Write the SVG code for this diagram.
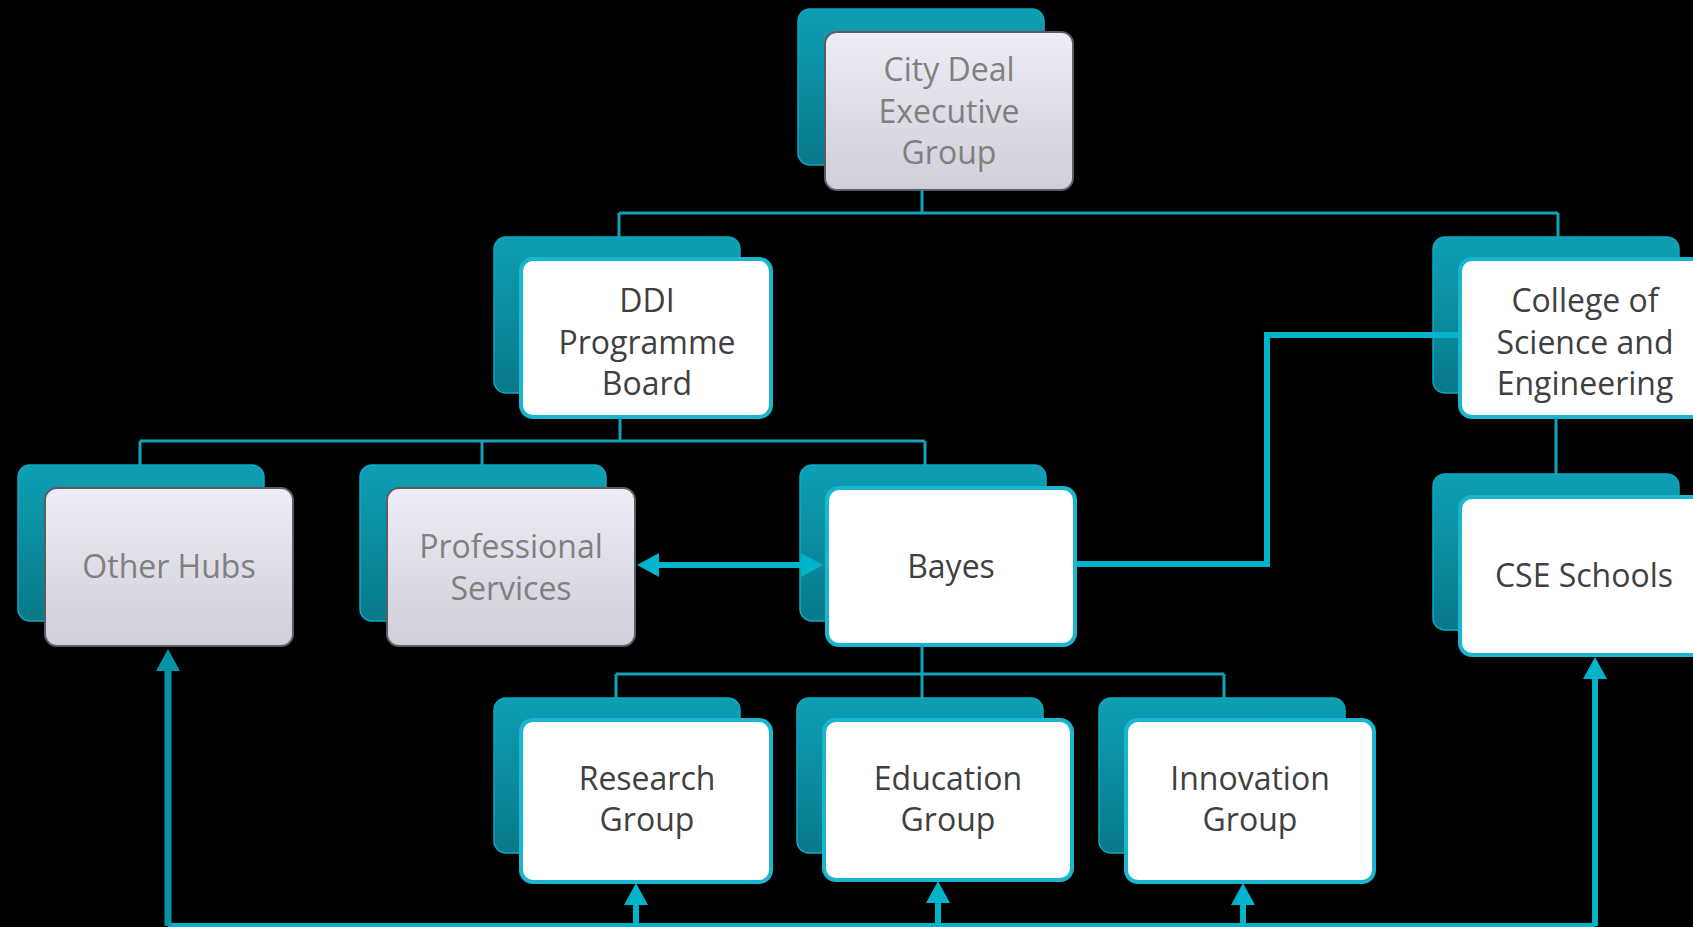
<svg xmlns="http://www.w3.org/2000/svg" width="1693" height="927" viewBox="0 0 1693 927">
<defs>
<linearGradient id="gBack" x1="0" y1="0" x2="0" y2="1">
<stop offset="0" stop-color="#0e9fb4"/>
<stop offset="1" stop-color="#07798a"/>
</linearGradient>
<linearGradient id="gGray" x1="0" y1="0" x2="0" y2="1">
<stop offset="0" stop-color="#eeedf6"/>
<stop offset="1" stop-color="#d0cfd9"/>
</linearGradient>
<marker id="arr" viewBox="0 0 22 24" refX="2" refY="12" markerWidth="22" markerHeight="24" markerUnits="userSpaceOnUse" orient="auto-start-reverse">
<path d="M0,0 L22,12 L0,24 z" fill="#00b4cc"/>
</marker>
<marker id="arrD" viewBox="0 0 22 24" refX="2" refY="12" markerWidth="22" markerHeight="24" markerUnits="userSpaceOnUse" orient="auto-start-reverse">
<path d="M0,0 L22,12 L0,24 z" fill="#0792a5"/>
</marker>
</defs>
<style>
.back{fill:url(#gBack);stroke:#10a9bf;stroke-width:1.5}
.front{fill:#ffffff;stroke:#1ab6cf;stroke-width:4}
.gray{fill:url(#gGray);stroke:#5c5c66;stroke-width:2}
text{font-family:"Open Sans","Liberation Sans",sans-serif;font-size:32px;text-anchor:middle}
.tw{fill:#404040}
.tg{fill:#808080}
.tree{fill:none;stroke:#12a2b9;stroke-width:3}
.thick{fill:none;stroke:#00b4cc;stroke-width:6}
</style>
<rect width="1693" height="927" fill="#000000"/>

<g id="city-deal">
<rect class="back" x="798" y="9" width="246" height="156" rx="12"/>
<rect class="gray" x="825" y="32" width="248" height="158" rx="12"/>
<text class="tg" x="949" y="81">City Deal</text>
<text class="tg" x="949" y="122.5">Executive</text>
<text class="tg" x="949" y="164">Group</text>
</g>

<g id="ddi">
<rect class="back" x="494" y="237" width="246" height="156" rx="12"/>
<rect class="front" x="521" y="259" width="250" height="158" rx="12"/>
<text class="tw" x="647" y="312">DDI</text>
<text class="tw" x="647" y="353.5">Programme</text>
<text class="tw" x="647" y="395">Board</text>
</g>

<g id="college">
<rect class="back" x="1433" y="237" width="246" height="156" rx="12"/>
<rect class="front" x="1460" y="259" width="250" height="158" rx="12"/>
<text class="tw" x="1585" y="312">College of</text>
<text class="tw" x="1585" y="353.5">Science and</text>
<text class="tw" x="1585" y="395">Engineering</text>
</g>

<g id="other-hubs">
<rect class="back" x="18" y="465" width="246" height="156" rx="12"/>
<rect class="gray" x="45" y="488" width="248" height="158" rx="12"/>
<text class="tg" x="169" y="578">Other Hubs</text>
</g>

<g id="professional-services">
<rect class="back" x="360" y="465" width="246" height="156" rx="12"/>
<rect class="gray" x="387" y="488" width="248" height="158" rx="12"/>
<text class="tg" x="511" y="558">Professional</text>
<text class="tg" x="511" y="599.5">Services</text>
</g>

<g id="bayes">
<rect class="back" x="800" y="465" width="246" height="156" rx="12"/>
<rect class="front" x="827" y="488" width="248" height="157" rx="12"/>
<text class="tw" x="951" y="578">Bayes</text>
</g>

<g id="cse-schools">
<rect class="back" x="1433" y="474" width="246" height="156" rx="12"/>
<rect class="front" x="1460" y="497" width="250" height="158" rx="12"/>
<text class="tw" x="1584" y="587">CSE Schools</text>
</g>

<g id="research">
<rect class="back" x="494" y="698" width="246" height="155" rx="12"/>
<rect class="front" x="521" y="720" width="250" height="162" rx="12"/>
<text class="tw" x="647" y="790">Research</text>
<text class="tw" x="647" y="831">Group</text>
</g>

<g id="education">
<rect class="back" x="797" y="698" width="246" height="155" rx="12"/>
<rect class="front" x="824" y="720" width="248" height="160" rx="12"/>
<text class="tw" x="948" y="790">Education</text>
<text class="tw" x="948" y="831">Group</text>
</g>

<g id="innovation">
<rect class="back" x="1099" y="698" width="246" height="155" rx="12"/>
<rect class="front" x="1126" y="720" width="248" height="162" rx="12"/>
<text class="tw" x="1250" y="790">Innovation</text>
<text class="tw" x="1250" y="831">Group</text>
</g>

<g id="connectors">
<path class="tree" d="M922,190 V213 M619,213 H1558 M619,213 V238 M1558,213 V238"/>
<path class="tree" d="M620,417 V441 M140,441 H925 M140,441 V465 M482,441 V465 M925,441 V465"/>
<path class="tree" d="M1556,417 V474"/>
<path class="tree" d="M922,645 V674 M616,674 H1224 M616,674 V698 M922,674 V698 M1224,674 V698"/>
<path class="thick" d="M1458,335 H1267 V564 H1077"/>
<path class="thick" d="M657,565 H803" marker-start="url(#arr)" marker-end="url(#arr)"/>
<path fill="none" stroke="#00b4cc" stroke-width="4" d="M168,925 H1595"/>
<path fill="none" stroke="#0792a5" stroke-width="7" d="M168,926 V669" marker-end="url(#arrD)"/>
<path class="thick" d="M1595,926 V677" marker-end="url(#arr)"/>
<path class="thick" d="M636,926 V903" marker-end="url(#arr)"/>
<path class="thick" d="M938,926 V901" marker-end="url(#arr)"/>
<path class="thick" d="M1243,926 V903" marker-end="url(#arr)"/>
</g>
</svg>
